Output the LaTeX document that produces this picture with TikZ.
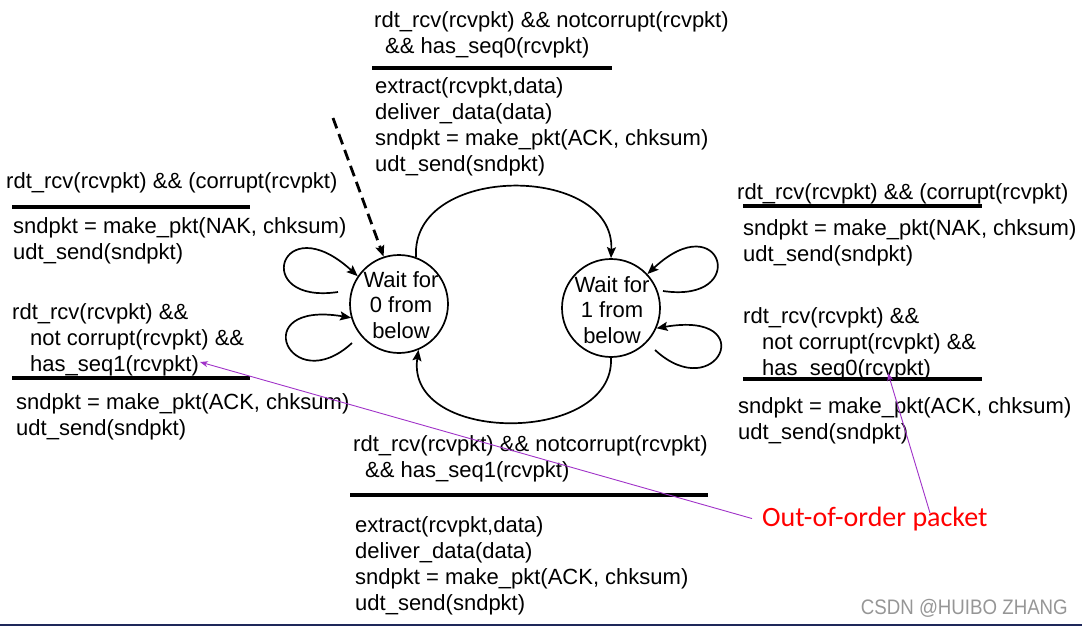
\documentclass[tikz,border=0pt]{standalone}
\usepackage{fontspec}
\setmainfont{Liberation Sans}
\newfontfamily\calibri{Carlito}
\usetikzlibrary{arrows.meta}
\definecolor{notepurple}{RGB}{160,50,200}
\definecolor{navyline}{RGB}{30,40,90}
\definecolor{wmgray}{RGB}{150,150,150}

\begin{document}
\begin{tikzpicture}[x=1pt, y=-1pt,
    state/.style={circle, draw, line width=1.7pt, minimum size=98pt, inner sep=0pt},
    statetext/.style={align=center, inner sep=0pt, font=\fontsize{22}{25.5}\selectfont},
    txt/.style={anchor=north west, inner sep=0pt, align=left, font=\fontsize{22}{26}\selectfont},
    rule/.style={line width=3.2pt},
    arrow/.style={-{Stealth[length=11pt, width=9pt, inset=2pt]}, line width=1.7pt},
    pointer/.style={-{Stealth[length=8pt, width=6pt]}, line width=0.9pt, notepurple}
]
\useasboundingbox (0,0) rectangle (1082,626);

% States
\node[state] (wait0) at (399,304) {};
\node[statetext] (wait0txt) at (401,305) {Wait for\\0 from\\below};
\node[state] (wait1) at (611,308) {};
\node[statetext] (wait1txt) at (612,310) {Wait for\\1 from\\below};

% Transition 0 -> 1
\node[txt] (c0cond) at (374,11) {rdt\_rcv(rcvpkt) \&\& notcorrupt(rcvpkt)\\\hspace*{11pt}\&\& has\_seq0(rcvpkt)};
\draw[rule] (372,68) -- (612,68);
\node[txt] (c0act) at (375,77) {extract(rcvpkt,data)\\deliver\_data(data)\\sndpkt = make\_pkt(ACK, chksum)\\udt\_send(sndpkt)};

% Left self loops
\node[txt] (nak0cond) at (6,172) {rdt\_rcv(rcvpkt) \&\& (corrupt(rcvpkt)};
\draw[rule] (12,207) -- (250,207);
\node[txt] (nak0act) at (13,217) {sndpkt = make\_pkt(NAK, chksum)\\udt\_send(sndpkt)};

\node[txt] (dup1cond) at (12,303) {rdt\_rcv(rcvpkt) \&\&\\\hspace*{18pt}not corrupt(rcvpkt) \&\&\\\hspace*{18pt}has\_seq1(rcvpkt)};
\draw[rule] (12,378) -- (250,378);
\node[txt] (dup1act) at (16,393) {sndpkt = make\_pkt(ACK, chksum)\\udt\_send(sndpkt)};

% Right self loops
\node[txt] (nak1cond) at (737,183) {rdt\_rcv(rcvpkt) \&\& (corrupt(rcvpkt)};
\draw[rule] (743,206) -- (982,206);
\node[txt] (nak1act) at (743,219) {sndpkt = make\_pkt(NAK, chksum)\\udt\_send(sndpkt)};

\node[txt] (dup0cond) at (743,307) {rdt\_rcv(rcvpkt) \&\&\\\hspace*{19pt}not corrupt(rcvpkt) \&\&\\\hspace*{19pt}has\_seq0(rcvpkt)};
\draw[rule] (743,379) -- (982,379);
\node[txt] (dup0act) at (738,397) {sndpkt = make\_pkt(ACK, chksum)\\udt\_send(sndpkt)};

% Transition 1 -> 0
\node[txt] (c1cond) at (353,435) {rdt\_rcv(rcvpkt) \&\& notcorrupt(rcvpkt)\\\hspace*{12pt}\&\& has\_seq1(rcvpkt)};
\draw[rule] (350,495) -- (708,495);
\node[txt] (c1act) at (355,516) {extract(rcvpkt,data)\\deliver\_data(data)\\sndpkt = make\_pkt(ACK, chksum)\\udt\_send(sndpkt)};

% Arrows
\coordinate (init) at (333,118);
\draw[arrow, line width=2.8pt, dash pattern=on 11pt off 6pt] (init) -- (wait0.108);
\draw[arrow] (wait0.70) .. controls (410,163) and (615,163) .. (wait1.90);
\draw[arrow] (wait1.-90) .. controls (615,445) and (405,445) .. (wait0.-67);

\coordinate (l0a) at (338,292);
\coordinate (l0b) at (352,343);
\coordinate (l1a) at (663,291);
\coordinate (l1b) at (655,350);
\draw[arrow] (l0a) .. controls (250,305) and (280,205) .. (wait0.146);
\draw[arrow] (l0b) .. controls (290,400) and (245,300) .. (wait0.196);
\draw[arrow] (l1a) .. controls (751,304) and (722,204) .. (wait1.43);
\draw[arrow] (l1b) .. controls (717,407) and (762,310) .. (wait1.336);

% Note
\node[anchor=base west, inner xsep=10pt, inner ysep=0pt, text=red, font=\calibri\fontsize{28}{31}\selectfont] (ooo) at (752,526) {Out-of-order packet};
\coordinate (seq1tip) at (200,362);
\coordinate (seq0tip) at (888,373);
\coordinate (pktstart) at (930,513);
\draw[pointer] (ooo.west) -- (seq1tip);
\draw[pointer] (pktstart) -- (seq0tip);

% Watermark and bottom edge
\node[anchor=east, inner sep=0pt, text=wmgray, font=\fontsize{21}{24}\selectfont] (wm) at (1068,608) {\scalebox{0.89}[1]{CSDN @HUIBO ZHANG}};
\draw[navyline, line width=2.5pt] (0,624.75) -- (1082,624.75);

\end{tikzpicture}
\end{document}
